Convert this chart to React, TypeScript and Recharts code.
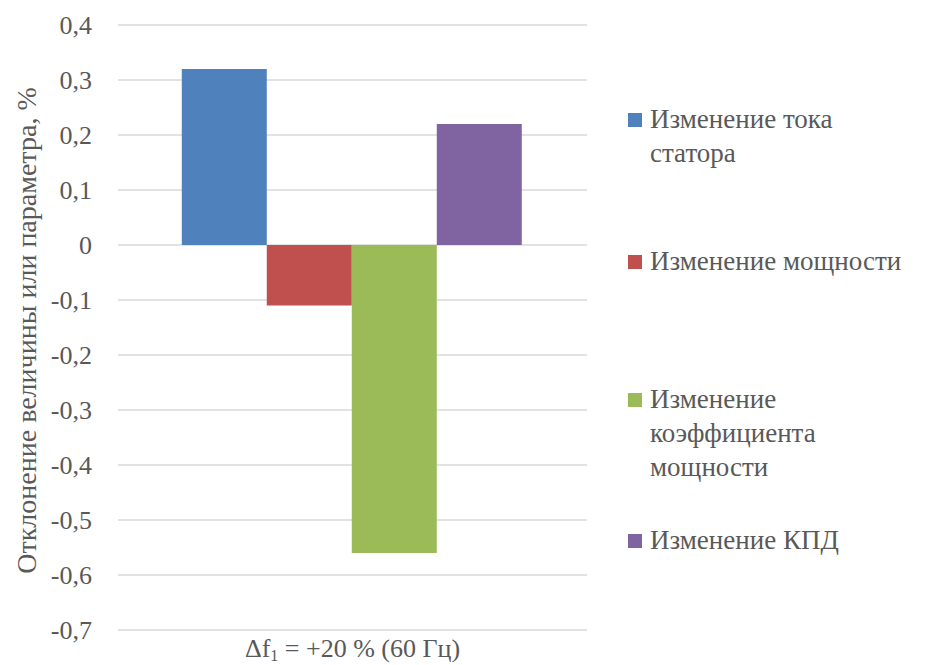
import React from 'react';
import { BarChart, Bar, XAxis, YAxis, CartesianGrid, Legend } from 'recharts';

const categories = ['Δf1 = +20 % (60 Гц)'];
const seriesNames = [
  'Изменение тока статора',
  'Изменение мощности',
  'Изменение коэффициента мощности',
  'Изменение КПД',
];
const statorCurrent = [0.32];
const power = [-0.11];
const powerFactor = [-0.56];
const efficiency = [0.22];
const yTicks = [-0.7, -0.6, -0.5, -0.4, -0.3, -0.2, -0.1, 0, 0.1, 0.2, 0.3, 0.4];

// legend text broken the way the reference wraps it
const legendLines = [
  ['Изменение тока', 'статора'],
  ['Изменение мощности'],
  ['Изменение', 'коэффициента', 'мощности'],
  ['Изменение КПД'],
];
const legendTops = [102, 244, 382, 523];

const colors = ['#4F81BD', '#C0504D', '#9BBB59', '#8064A2'];
const keys = ['s0', 's1', 's2', 's3'];
const FONT = 'Tinos, "Liberation Serif", "Noto Serif", "DejaVu Serif", "Times New Roman", serif';
const TEXT = '#595959';

const data = categories.map((c, i) => ({
  name: c,
  s0: statorCurrent[i],
  s1: power[i],
  s2: powerFactor[i],
  s3: efficiency[i],
}));

const fmt = (v: number) => (v === 0 ? '0' : v.toFixed(1).replace('.', ','));

const XTick = ({ x, y, payload }: any) => {
  const label: string = payload.value;
  const base = label.slice(0, 2);
  const rest = label.slice(3);
  return (
    <text x={x} y={y + 25} textAnchor="middle" fill={TEXT} fontFamily={FONT} fontSize={26}>
      <tspan>{base}</tspan>
      <tspan fontSize={16} dy={4}>1</tspan>
      <tspan dy={-4}>{rest}</tspan>
    </text>
  );
};

const YTitle = ({ viewBox }: any) => {
  const cy = viewBox.y + viewBox.height / 2 + 3;
  return (
    <text
      x={26}
      y={cy}
      transform={`rotate(-90, 26, ${cy})`}
      textAnchor="middle"
      dominantBaseline="central"
      fill={TEXT}
      fontFamily={FONT}
      fontSize={28}
    >
      Отклонение величины или параметра, %
    </text>
  );
};

const LegendBox = () => (
  <div style={{ position: 'relative', width: 307, height: 665 }}>
    {legendLines.map((lines, i) => (
      <div key={i} style={{ position: 'absolute', left: 0, top: legendTops[i] }}>
        <div
          style={{
            position: 'absolute',
            left: 8,
            top: 11,
            width: 14,
            height: 14,
            background: colors[i],
          }}
        />
        <div
          style={{
            marginLeft: 30,
            fontFamily: FONT,
            fontSize: 27,
            lineHeight: '34px',
            color: TEXT,
            whiteSpace: 'nowrap',
          }}
        >
          {lines.map((l, j) => (
            <div key={j}>{l}</div>
          ))}
        </div>
      </div>
    ))}
  </div>
);

export default function App() {
  return (
    <div style={{ position: 'absolute', left: 0, top: 0, background: '#fff' }}>
      <BarChart
        width={927}
        height={665}
        data={data}
        margin={{ top: 25, right: 33, bottom: 0, left: 0 }}
        barCategoryGap="13.6%"
        barGap={0}
      >
        <CartesianGrid vertical={false} stroke="#d9d9d9" strokeWidth={1.5} />
        <XAxis
          dataKey="name"
          height={35}
          axisLine={false}
          tickLine={false}
          tickSize={0}
          tick={<XTick />}
        />
        <YAxis
          width={118}
          domain={[-0.7, 0.4]}
          ticks={yTicks}
          tickFormatter={fmt}
          axisLine={false}
          tickLine={false}
          tickSize={0}
          tickMargin={26}
          tick={{ fill: TEXT, fontFamily: FONT, fontSize: 26 }}
          label={<YTitle />}
        />
        <Legend
          layout="vertical"
          align="right"
          verticalAlign="top"
          content={<LegendBox />}
          wrapperStyle={{ position: 'absolute', left: 620, top: 0, width: 307 }}
        />
        {keys.map((k, i) => (
          <Bar key={k} dataKey={k} name={seriesNames[i]} fill={colors[i]} isAnimationActive={false} />
        ))}
      </BarChart>
    </div>
  );
}
